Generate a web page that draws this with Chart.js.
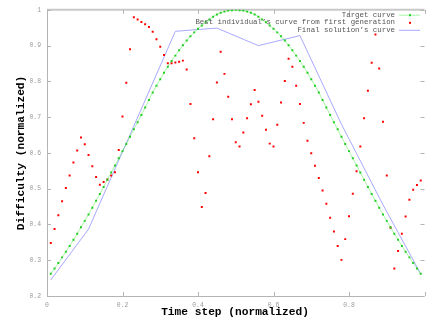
<!DOCTYPE html>
<html lang="en">
<head>
    <meta charset="UTF-8">
    <title>Difficulty curves</title>
    <style>
        body {
            margin: 0;
            background: #fff;
        }
        canvas {
            display: block;
        }
    </style>
    <script src="https://cdn.jsdelivr.net/npm/chart.js"></script>
</head>
<body>
    <canvas id="curveChart" width="427" height="323"></canvas>

    <script>
        // time steps shared by the target and the first-generation curve
        const timeSteps = [
            0.01, 0.02, 0.03, 0.04, 0.05, 0.06, 0.07, 0.08, 0.09, 0.10,
            0.11, 0.12, 0.13, 0.14, 0.15, 0.16, 0.17, 0.18, 0.19, 0.20,
            0.21, 0.22, 0.23, 0.24, 0.25, 0.26, 0.27, 0.28, 0.29, 0.30,
            0.31, 0.32, 0.33, 0.34, 0.35, 0.36, 0.37, 0.38, 0.39, 0.40,
            0.41, 0.42, 0.43, 0.44, 0.45, 0.46, 0.47, 0.48, 0.49, 0.50,
            0.51, 0.52, 0.53, 0.54, 0.55, 0.56, 0.57, 0.58, 0.59, 0.60,
            0.61, 0.62, 0.63, 0.64, 0.65, 0.66, 0.67, 0.68, 0.69, 0.70,
            0.71, 0.72, 0.73, 0.74, 0.75, 0.76, 0.77, 0.78, 0.79, 0.80,
            0.81, 0.82, 0.83, 0.84, 0.85, 0.86, 0.87, 0.88, 0.89, 0.90,
            0.91, 0.92, 0.93, 0.94, 0.95, 0.96, 0.97, 0.98, 0.99
        ];

        const targetCurve = [
            0.262, 0.277, 0.292, 0.308, 0.324, 0.340, 0.357, 0.374, 0.392, 0.410,
            0.428, 0.447, 0.466, 0.485, 0.505, 0.525, 0.545, 0.565, 0.585, 0.605,
            0.625, 0.645, 0.666, 0.686, 0.706, 0.727, 0.748, 0.769, 0.788, 0.806,
            0.824, 0.841, 0.857, 0.872, 0.887, 0.901, 0.914, 0.926, 0.937, 0.947,
            0.956, 0.965, 0.973, 0.981, 0.987, 0.992, 0.995, 0.998, 0.999, 1.000,
            0.999, 0.998, 0.995, 0.992, 0.987, 0.981, 0.973, 0.965, 0.956, 0.947,
            0.937, 0.926, 0.914, 0.901, 0.887, 0.872, 0.857, 0.841, 0.824, 0.806,
            0.788, 0.769, 0.748, 0.727, 0.706, 0.686, 0.666, 0.645, 0.625, 0.605,
            0.585, 0.565, 0.545, 0.525, 0.505, 0.485, 0.466, 0.447, 0.428, 0.410,
            0.392, 0.374, 0.357, 0.340, 0.324, 0.308, 0.292, 0.277, 0.262
        ];

        const firstGeneration = [
            0.348, 0.387, 0.426, 0.465, 0.502, 0.537, 0.573, 0.607, 0.643, 0.624,
            0.594, 0.563, 0.533, 0.511, 0.519, 0.526, 0.537, 0.546, 0.608, 0.702,
            0.796, 0.890, 0.979, 0.973, 0.966, 0.960, 0.952, 0.939, 0.918, 0.897,
            0.874, 0.851, 0.851, 0.853, 0.855, 0.858, 0.833, 0.737, 0.641, 0.546,
            0.449, 0.488, 0.591, 0.694, 0.797, 0.883, 0.821, 0.757, 0.694, 0.630,
            0.618, 0.657, 0.697, 0.736, 0.776, 0.743, 0.704, 0.665, 0.626, 0.618,
            0.679, 0.741, 0.801, 0.863, 0.841, 0.788, 0.737, 0.684, 0.634, 0.599,
            0.564, 0.530, 0.495, 0.458, 0.419, 0.380, 0.340, 0.301, 0.359, 0.423,
            0.486, 0.549, 0.618, 0.697, 0.774, 0.852, 0.931, 0.836, 0.687, 0.537,
            0.391, 0.277, 0.326, 0.374, 0.422, 0.469, 0.497, 0.510, 0.523
        ];

        // control points of the final solution
        const finalSteps = [0.01, 0.11, 0.23, 0.34, 0.45, 0.56, 0.67, 0.78, 0.89, 0.99];
        const finalCurve = [0.245, 0.387, 0.675, 0.940, 0.949, 0.900, 0.928, 0.680, 0.455, 0.262];

        const xTicks = [0, 0.2, 0.4, 0.6, 0.8, 1];
        const yTicks = [0.2, 0.3, 0.4, 0.5, 0.6, 0.7, 0.8, 0.9, 1];

        const labels = ["Target curve", "Best individual\u2019s curve from first generation", "Final solution\u2019s curve"];
        const colors = { target: "#22cc22", targetLine: "rgba(60, 235, 60, 0.45)", first: "#ff0000", final: "#a8a8ff" };

        const mono = "'Liberation Mono', 'DejaVu Sans Mono', monospace";

        function toPoints(xs, ys) {
            return xs.map((x, i) => ({ x: x, y: ys[i] }));
        }

        // gnuplot-like frame with inward ticks
        const framePlugin = {
            id: "frame",
            beforeDatasetsDraw(chart) {
                const { ctx, chartArea, scales } = chart;
                const xRight = scales.x.getPixelForValue(1);
                ctx.save();
                ctx.strokeStyle = "#b4b4b4";
                ctx.lineWidth = 1;
                ctx.beginPath();
                ctx.moveTo(chartArea.left + 0.5, chartArea.top);
                ctx.lineTo(chartArea.left + 0.5, chartArea.bottom + 0.5);
                ctx.lineTo(xRight, chartArea.bottom + 0.5);
                ctx.stroke();
                ctx.lineWidth = 2;
                ctx.strokeStyle = "#c8c8c8";
                ctx.beginPath();
                ctx.moveTo(chartArea.left, chartArea.top);
                ctx.lineTo(xRight, chartArea.top);
                ctx.stroke();

                ctx.lineWidth = 1;
                ctx.strokeStyle = "#b4b4b4";
                ctx.beginPath();
                xTicks.forEach(v => {
                    const px = Math.round(scales.x.getPixelForValue(v)) + 0.5;
                    ctx.moveTo(px, chartArea.bottom);
                    ctx.lineTo(px, chartArea.bottom - 4);
                    ctx.moveTo(px, chartArea.top);
                    ctx.lineTo(px, chartArea.top + 4);
                });
                yTicks.forEach(v => {
                    const py = Math.round(scales.y.getPixelForValue(v)) + 0.5;
                    ctx.moveTo(chartArea.left, py);
                    ctx.lineTo(chartArea.left + 4, py);
                    ctx.moveTo(xRight, py);
                    ctx.lineTo(xRight - 4, py);
                });
                ctx.stroke();
                ctx.restore();
            }
        };

        // key in the top right corner, text right aligned, sample on the right
        const keyPlugin = {
            id: "key",
            afterDraw(chart) {
                const ctx = chart.ctx;
                const textRight = 395;
                const sampleLeft = 399;
                const sampleRight = 420;
                const rows = [14.7, 22.3, 29.8];
                ctx.save();
                ctx.font = "7.4px " + mono;
                ctx.fillStyle = "#555";
                ctx.textAlign = "right";
                ctx.textBaseline = "middle";
                labels.forEach((t, i) => ctx.fillText(t, textRight, rows[i]));

                ctx.lineWidth = 1;
                ctx.strokeStyle = colors.targetLine;
                ctx.beginPath();
                ctx.moveTo(sampleLeft, rows[0] + 0.5);
                ctx.lineTo(sampleRight, rows[0] + 0.5);
                ctx.stroke();
                ctx.fillStyle = colors.target;
                ctx.fillRect(409, rows[0] - 0.5, 2, 2);

                ctx.fillStyle = colors.first;
                ctx.fillRect(409, rows[1] - 0.5, 2, 2);

                ctx.strokeStyle = colors.final;
                ctx.beginPath();
                ctx.moveTo(sampleLeft, rows[2] + 0.5);
                ctx.lineTo(sampleRight, rows[2] + 0.5);
                ctx.stroke();
                ctx.restore();
            }
        };

        const ctx = document.getElementById("curveChart").getContext("2d");
        const chart = new Chart(ctx, {
            type: "scatter",
            data: {
                datasets: [
                    {
                        label: labels[0],
                        data: toPoints(timeSteps, targetCurve),
                        showLine: true,
                        borderColor: colors.targetLine,
                        borderWidth: 1,
                        pointStyle: "rect",
                        pointRadius: 1.4,
                        pointBorderWidth: 0,
                        pointBackgroundColor: colors.target,
                        tension: 0
                    },
                    {
                        label: labels[1],
                        data: toPoints(timeSteps, firstGeneration),
                        showLine: false,
                        pointStyle: "rect",
                        pointRadius: 1.4,
                        pointBorderWidth: 0,
                        pointBackgroundColor: colors.first
                    },
                    {
                        label: labels[2],
                        data: toPoints(finalSteps, finalCurve),
                        showLine: true,
                        borderColor: colors.final,
                        borderWidth: 1,
                        pointRadius: 0,
                        tension: 0
                    }
                ]
            },
            options: {
                responsive: false,
                animation: false,
                devicePixelRatio: 1,
                layout: { padding: { top: 7, right: 0, left: 0, bottom: 0 } },
                plugins: {
                    legend: { display: false },
                    tooltip: { enabled: false }
                },
                scales: {
                    x: {
                        type: "linear",
                        min: 0,
                        max: 0.996,
                        grid: { display: false, drawTicks: false },
                        border: { display: false },
                        ticks: {
                            stepSize: 0.2,
                            includeBounds: false,
                            autoSkip: false,
                            maxRotation: 0,
                            padding: 5,
                            color: "#999",
                            font: { family: mono, size: 6.4 },
                            callback: v => String(Math.round(v * 10) / 10)
                        },
                        title: {
                            display: true,
                            text: "Time step (normalized)",
                            color: "#000",
                            font: { family: mono, size: 11.2, weight: "bold" },
                            padding: { top: 0, bottom: 4 }
                        },
                        afterFit: s => { s.height = 27; }
                    },
                    y: {
                        min: 0.2,
                        max: 1,
                        grid: { display: false, drawTicks: false },
                        border: { display: false },
                        ticks: {
                            stepSize: 0.1,
                            padding: 6,
                            color: "#999",
                            font: { family: mono, size: 6.4 },
                            callback: v => String(Math.round(v * 10) / 10)
                        },
                        title: {
                            display: true,
                            text: "Difficulty (normalized)",
                            color: "#000",
                            font: { family: mono, size: 11.2, weight: "bold" },
                            padding: { top: 14, bottom: 0 }
                        },
                        afterFit: s => { s.width = 47; }
                    }
                }
            },
            plugins: [framePlugin, keyPlugin]
        });
    </script>
</body>
</html>
